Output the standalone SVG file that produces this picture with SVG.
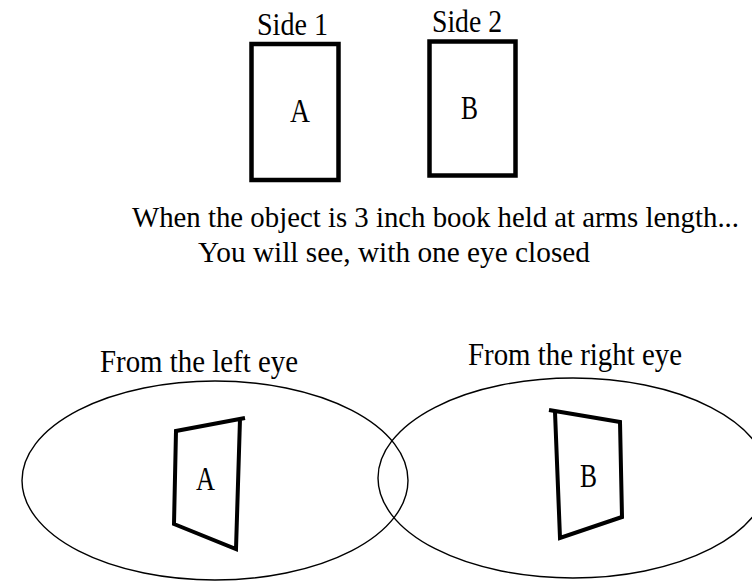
<svg xmlns="http://www.w3.org/2000/svg" width="752" height="583" viewBox="0 0 752 583">
<style>
  text { font-family: "Liberation Serif", "Times New Roman", serif; fill: #000; }
  .lbl { font-size: 32px; }
  .big { font-size: 34px; }
  .box { fill: none; stroke: #000; stroke-width: 4.5; }
  .quad { fill: none; stroke: #000; stroke-width: 4; stroke-linejoin: miter; }
  .eye { fill: none; stroke: #000; stroke-width: 1.4; }
</style>
<rect width="752" height="583" fill="#fff"/>
<g id="side1">
  <text class="lbl" x="257" y="35" textLength="71" lengthAdjust="spacingAndGlyphs">Side 1</text>
  <rect class="box" x="251.5" y="44" width="87" height="136"/>
  <text class="big" x="290" y="122" textLength="20" lengthAdjust="spacingAndGlyphs">A</text>
</g>
<g id="side2">
  <text class="lbl" x="432" y="32" textLength="70" lengthAdjust="spacingAndGlyphs">Side 2</text>
  <rect class="box" x="429.5" y="41.5" width="86" height="134"/>
  <text class="big" x="461" y="119" textLength="17" lengthAdjust="spacingAndGlyphs">B</text>
</g>
<g id="caption">
  <text class="lbl" style="font-size:29px" x="132" y="227" textLength="607" lengthAdjust="spacingAndGlyphs">When the object is 3 inch book held at arms length...</text>
  <text class="lbl" style="font-size:29px" x="198" y="262" textLength="392" lengthAdjust="spacingAndGlyphs">You will see, with one eye closed</text>
</g>
<g id="left-eye">
  <text class="lbl" x="100" y="372" textLength="198" lengthAdjust="spacingAndGlyphs">From the left eye</text>
  <ellipse class="eye" cx="215" cy="480.5" rx="193" ry="99.5"/>
  <path class="quad" d="M245,418 L176,431 L174,524 L236,549 L240,419"/>
  <text class="big" x="196" y="490" textLength="19" lengthAdjust="spacingAndGlyphs">A</text>
</g>
<g id="right-eye">
  <text class="lbl" x="468" y="365" textLength="214" lengthAdjust="spacingAndGlyphs">From the right eye</text>
  <ellipse class="eye" cx="573" cy="478" rx="195" ry="100"/>
  <path class="quad" d="M549,410 L620,422 L622,517 L560,538 L555,412"/>
  <text class="big" x="580" y="487" textLength="17" lengthAdjust="spacingAndGlyphs">B</text>
</g>
<g id="connectors"></g>
</svg>
